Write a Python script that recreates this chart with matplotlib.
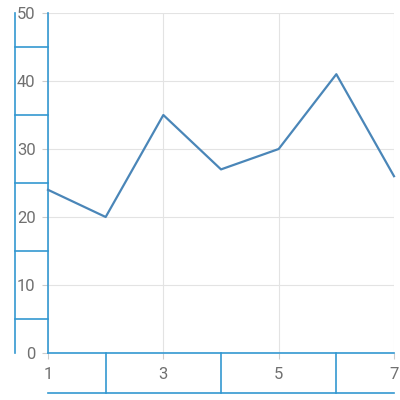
import matplotlib.pyplot as plt
import matplotlib.transforms as mtransforms

plt.rcParams['font.family'] = ['Roboto', 'DejaVu Sans']

x_vals = [1, 2, 3, 4, 5, 6, 7]
y_vals = [24, 20, 35, 27, 30, 41, 26]
x_ticks = [1, 3, 5, 7]
y_ticks = [0, 10, 20, 30, 40, 50]
y_bands = [5, 15, 25, 35, 45]
x_bands = [2, 4, 6]

axis_blue = '#3398d1'
line_blue = '#4a86b8'
grid_gray = '#e3e3e3'
text_gray = '#707070'

fig = plt.figure(figsize=(4, 4), dpi=100)
ax = fig.add_axes([48 / 400, 47 / 400, 346 / 400, 340 / 400])

ax.plot(x_vals, y_vals, color=line_blue, linewidth=1.6, clip_on=False, zorder=3)

ax.set_xlim(1, 7)
ax.set_ylim(0, 50)
ax.set_xticks(x_ticks)
ax.set_yticks(y_ticks)
ax.grid(True, color=grid_gray, linewidth=0.8)
ax.set_axisbelow(True)

for side in ['top', 'right']:
    ax.spines[side].set_visible(False)
for side in ['left', 'bottom']:
    ax.spines[side].set_color(axis_blue)
    ax.spines[side].set_linewidth(1.2)

ax.tick_params(axis='both', colors='#cccccc', labelcolor=text_gray,
               labelsize=12, length=4, width=0.8)
ax.tick_params(axis='y', pad=5)
ax.tick_params(axis='x', pad=6)

# outer band lines on the y side
ty = mtransforms.blended_transform_factory(ax.transAxes, ax.transData)
xo = -33 / 346
ax.plot([xo, xo], [0, 50], transform=ty, color=axis_blue, linewidth=1.2, clip_on=False)
for yb in y_bands:
    ax.plot([xo, 0], [yb, yb], transform=ty, color=axis_blue, linewidth=1.2, clip_on=False)

# outer band lines on the x side
tx = mtransforms.blended_transform_factory(ax.transData, ax.transAxes)
yo = -40 / 340
ax.plot([1, 7], [yo, yo], transform=tx, color=axis_blue, linewidth=1.2, clip_on=False)
for xb in x_bands:
    ax.plot([xb, xb], [yo, 0], transform=tx, color=axis_blue, linewidth=1.2, clip_on=False)

fig.savefig('out.png', dpi=100)
